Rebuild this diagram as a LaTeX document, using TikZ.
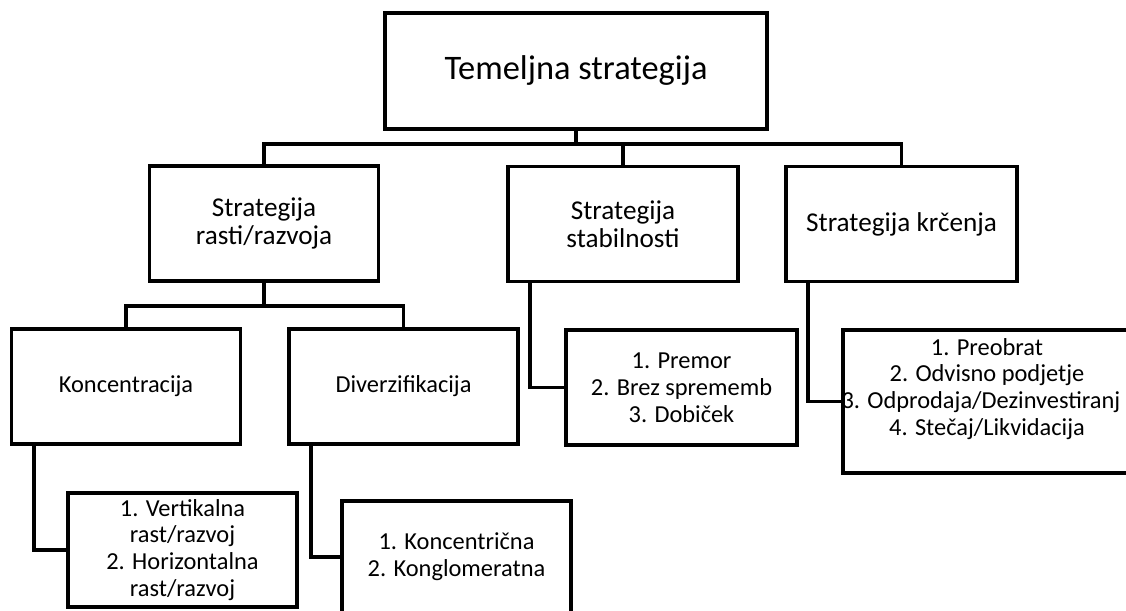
\documentclass[tikz,border=0pt]{standalone}
\usepackage{fontspec}
\setmainfont{Carlito}
\usetikzlibrary{positioning}

\begin{document}
\begin{tikzpicture}[x=1pt,y=-1pt,
	box/.style={draw,line width=3.6pt,minimum width=229pt,minimum height=115pt,inner sep=0pt,align=center,font=\fontsize{24.4}{26.8}\selectfont},
	midbox/.style={box,font=\fontsize{27.2}{28.5}\selectfont},
	txt/.style={inner sep=0pt,align=center,font=\fontsize{24.4}{26.8}\selectfont},
	conn/.style={line width=3.6pt}]
		\useasboundingbox (0,0) rectangle (1126,610);
		\clip (0,0) rectangle (1126,610);
		% top level
		\node[box,minimum width=382pt,minimum height=116pt,font=\fontsize{34.4}{40}\selectfont] (top) at (576,71) {Temeljna strategija};
		% second level
		\node[midbox] (rast) at (264,223.5) {Strategija\\rasti/razvoja};
		\node[midbox,minimum width=230pt] (stab) at (623,224) {Strategija\\stabilnosti};
		\node[midbox,minimum width=231pt] (krc) at (901.5,224) {Strategija krčenja};
		% third level
		\node[box] (konc) at (126,386.5) {Koncentracija};
		\node[box] (div) at (403.5,386.5) {Diverzifikacija};
		\node[box,minimum height=114pt] (vert) at (182.5,550) {1. Vertikalna\\rast/razvoj\\2. Horizontalna\\rast/razvoj};
		\node[box,minimum height=112pt] (konk) at (456.5,557) {1. Koncentrična\\2. Konglomeratna};
		\node[box,minimum width=231pt] (prem) at (681.5,387.5) {1. Premor\\2. Brez sprememb\\3. Dobiček};
		\node[box,minimum width=288pt,minimum height=143pt] (odp) at (987,401.5) {};
		\node[txt] (odptxt) at (987,389) {1. Preobrat\\2. Odvisno podjetje\\3. Odprodaja/Dezinvestiranj\phantom{e}\\4. Stečaj/Likvidacija};
		% connectors
		\draw[conn] (top.south) -- ++(0,13) coordinate (bus);
		\draw[conn] (rast.north) |- (bus) -| (krc.north);
		\draw[conn] (stab.north) -- (stab.north |- bus);
		\draw[conn] (rast.south) -- ++(0,23) coordinate (sub);
		\draw[conn] (konc.north) |- (sub) -| (div.north);
		\draw[conn] ([xshift=24pt]konc.south west) |- (vert.west);
		\draw[conn] ([xshift=24pt]div.south west) |- (konk.west);
		\draw[conn] ([xshift=24pt]stab.south west) |- (prem.west);
		\draw[conn] ([xshift=24pt]krc.south west) |- (odp.west);
\end{tikzpicture}
\end{document}
